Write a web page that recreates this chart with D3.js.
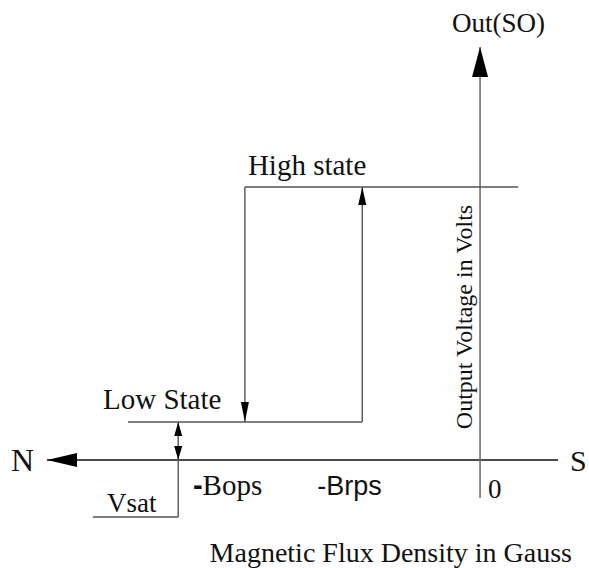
<!DOCTYPE html>
<html>
<head>
<meta charset="utf-8">
<script src="https://cdn.jsdelivr.net/npm/d3@7"></script>
<style>
  body { margin: 0; background: #fff; }
  svg { display: block; }
</style>
</head>
<body>
<script>
// schematic units: field B (left = North) and output voltage V
let xDomain = [-10, 1.8];
let yDomain = [0, 10];

let bOps = -5.43;      // switching point, high -> low
let bRps = -2.72;      // switching point, low -> high
let vHigh = 10;
let vLow = 1.39;
let vSatX = -6.97;
let vSatBottom = -2.09;

let loopLeft = -8.13;  // left end of low state line
let loopRight = 0.88;  // right end of high state line
let vSatLeft = -8.94;
let yAxisTop = 15.13;
let yAxisBottom = -1.39;

let labels = ['N', 'S', 'Out(SO)', 'High state', 'Low State', 'Vsat', '-Brps', '0'];

const width = 589, height = 568;
const x = d3.scaleLinear().domain(xDomain).range([47, 558]);
const y = d3.scaleLinear().domain(yDomain).range([460, 187]);

const svg = d3.select('body').append('svg').attr('width', width).attr('height', height);

function line(x1, y1, x2, y2, col, w) {
    svg.append('line')
        .attr('x1', x(x1)).attr('y1', y(y1))
        .attr('x2', x(x2)).attr('y2', y(y2))
        .attr('stroke', col || '#555')
        .attr('stroke-width', w || 1.4);
}

// arrow head, tip at (px, py), dir: 'up','down','left'
function head(px, py, dir, len, half) {
    let pts;
    if (dir == 'up') pts = [[px, py], [px - half, py + len], [px + half, py + len]];
    if (dir == 'down') pts = [[px, py], [px - half, py - len], [px + half, py - len]];
    if (dir == 'left') pts = [[px, py], [px + len, py - half], [px + len, py + half]];
    svg.append('polygon').attr('points', pts.map(p => p.join(',')).join(' ')).attr('fill', '#000');
}

// axes
line(xDomain[0], 0, xDomain[1], 0, '#111', 1.3);
head(x(xDomain[0]), y(0), 'left', 30, 7);
line(0, yAxisBottom, 0, yAxisTop, '#666', 1.5);
head(x(0), y(yAxisTop), 'up', 30, 8);

// hysteresis loop
line(bOps, vHigh, loopRight, vHigh);
line(bOps, vHigh, bOps, vLow);
head(x(bOps), y(vLow), 'down', 20, 4);
line(loopLeft, vLow, bRps, vLow);
line(bRps, vLow, bRps, vHigh);
head(x(bRps), y(vHigh), 'up', 18, 4);

// Vsat marker
line(vSatLeft, vSatBottom, vSatX, vSatBottom);
line(vSatX, vSatBottom, vSatX, vLow);
head(x(vSatX), y(vLow), 'up', 14, 4);
head(x(vSatX), y(0), 'down', 14, 4);

const serif = '"Liberation Serif", "Times New Roman", serif';
const sans = '"Liberation Sans", Arial, sans-serif';

function text(str, px, py, size, font, anchor) {
    return svg.append('text')
        .attr('x', px).attr('y', py)
        .attr('font-family', font || serif)
        .attr('font-size', size)
        .attr('text-anchor', anchor || 'start')
        .attr('fill', '#111')
        .text(str);
}

text(labels[0], 11, y(0) + 11, 32);
text(labels[1], 570, y(0) + 11, 30);
text(labels[2], x(0) - 28, 32, 27);
text(labels[3], x(bOps) + 3, y(vHigh) - 12, 29);
text(labels[4], x(loopLeft) - 25, y(vLow) - 13, 29);
text(labels[5], x(vSatLeft) + 14, y(vSatBottom) - 5, 27);
text(labels[6], x(bRps) - 45, y(0) + 35, 27, sans);
text(labels[7], x(0) + 8, y(0) + 38, 27);

// -Bops: bold sans hyphen + serif text
const bops = text('', x(bOps) - 52, y(0) + 35, 29);
bops.append('tspan').attr('font-family', sans).attr('font-weight', 'bold').text('-');
bops.append('tspan').text('Bops');

// axis titles
text('Output Voltage in Volts', 0, 0, 24, serif, 'middle')
    .attr('transform', `translate(${x(0) - 8},317) rotate(-90)`);
text('Magnetic Flux Density in Gauss', 572, 562, 28, serif, 'end');
</script>
</body>
</html>
